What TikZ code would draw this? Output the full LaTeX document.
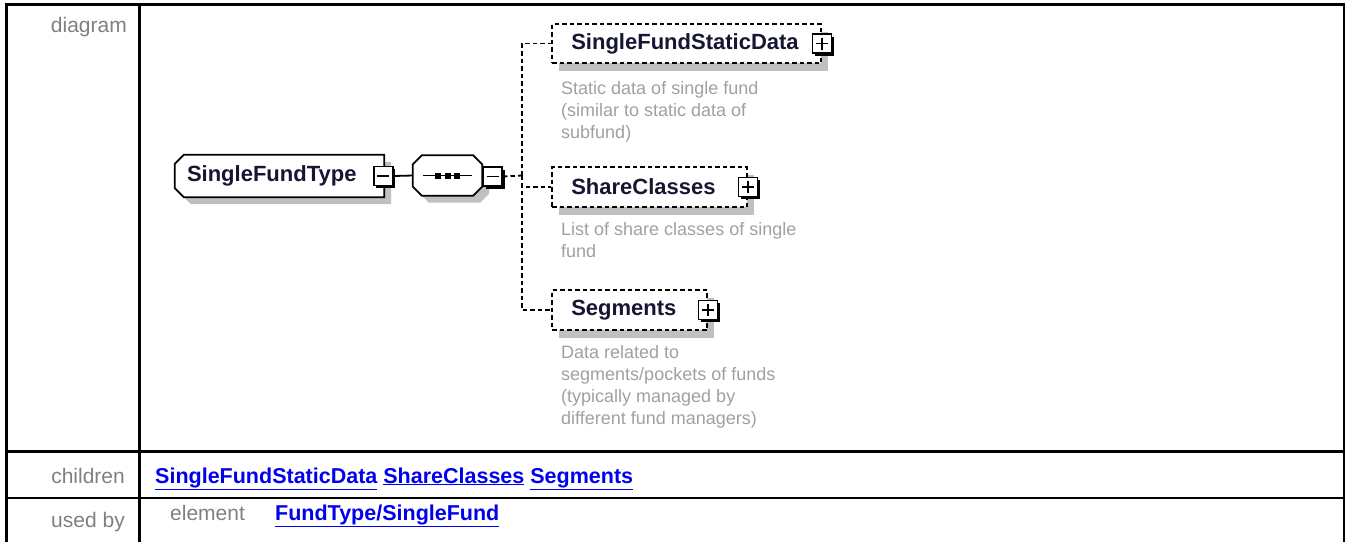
\documentclass[tikz,border=0pt]{standalone}
\usepackage{fontspec}
\setmainfont{Liberation Sans}
\usetikzlibrary{shadows}
\definecolor{labelgray}{RGB}{128,128,128}
\definecolor{linkblue}{RGB}{0,0,238}
\definecolor{namecol}{RGB}{22,22,52}
\definecolor{descgray}{RGB}{160,160,160}
\definecolor{shadowgray}{RGB}{192,192,192}
\begin{document}
\begin{tikzpicture}[x=1pt,y=-1pt,
  lbl/.style={text=labelgray,font=\fontsize{21}{25}\selectfont,inner sep=0},
  lnk/.style={text=linkblue,font=\bfseries\fontsize{21.5}{25}\selectfont,inner sep=0,anchor=base west},
  nm/.style={text=namecol,font=\bfseries\fontsize{22}{26}\selectfont,inner sep=0,anchor=west},
  desc/.style={text=descgray,font=\fontsize{18}{22}\selectfont,align=left,inner sep=0,anchor=north west},
  anchorbox/.style={inner sep=0,draw=none},
  elbox/.style={draw,dash pattern=on 4.5pt off 3pt,line width=1.8pt,fill=white,inner sep=0,
    drop shadow={fill=shadowgray,opacity=1,shadow xshift=7pt,shadow yshift=-8pt}},
  conn/.style={line width=1.8pt,dash pattern=on 4.5pt off 3pt},
  solidconn/.style={line width=1.8pt},
  btn/.style={draw,line width=1.8pt,fill=white,minimum size=19pt,inner sep=0,
    drop shadow={fill=black,opacity=1,shadow xshift=2.5pt,shadow yshift=-2.5pt}},
  minusbtn/.style={btn,path picture={\draw[line width=1.6pt]
      ([xshift=3.5pt]path picture bounding box.west) -- ([xshift=-3.5pt]path picture bounding box.east);}},
  plusbtn/.style={btn,path picture={\draw[line width=1.6pt]
      ([xshift=3.5pt]path picture bounding box.west) -- ([xshift=-3.5pt]path picture bounding box.east)
      ([yshift=-3.5pt]path picture bounding box.north) -- ([yshift=3.5pt]path picture bounding box.south);}},
]
\useasboundingbox (0,0) rectangle (1346,542);

% table frame
\draw[line width=3pt] (6.5,542) -- (6.5,4.5) -- (1345,4.5);
\draw[line width=2pt] (1344,3) -- (1344,542);
\draw[line width=2.7pt] (139.7,3) -- (139.7,542);
\draw[line width=3.3pt] (5,451.7) -- (1345,451.7);
\draw[line width=2.7pt] (5,498) -- (1345,498);

% row labels
\node[lbl,anchor=base east] (ldiag) at (127,32) {diagram};
\node[lbl,anchor=base east] (lchild) at (125,483) {children};
\node[lbl,anchor=base east] (lused) at (125,527) {used by};
\node[lbl,anchor=base west] (lelem) at (170,520) {element};
\node[lnk] (childlinks) at (155,483) {\underline{SingleFundStaticData} \underline{ShareClasses} \underline{Segments}};
\node[lnk] (usedlink) at (275,520) {\underline{FundType/SingleFund}};

% SingleFundType box (chamfered left corners)
\node[anchorbox,minimum width=209pt,minimum height=42pt] (sft) at (279.5,176) {};
\fill[shadowgray] ([shift={(16,7)}]sft.north west) -- ([shift={(7,7)}]sft.north east)
  -- ([shift={(7,7)}]sft.south east) -- ([shift={(16,7)}]sft.south west)
  -- ([shift={(7,-2)}]sft.south west) -- ([shift={(7,16)}]sft.north west) -- cycle;
\filldraw[fill=white,line width=1.8pt] ([shift={(9,0)}]sft.north west) -- (sft.north east)
  -- (sft.south east) -- ([shift={(9,0)}]sft.south west)
  -- ([shift={(0,-9)}]sft.south west) -- ([shift={(0,9)}]sft.north west) -- cycle;
\node[nm] (sftt) at ([shift={(12,0)}]sft.west) {SingleFundType};
\node[minusbtn] (sftb) at ([shift={(-1,0)}]sft.east) {};

% sequence compositor
\node[anchorbox,minimum width=69pt,minimum height=40pt] (seq) at (447.5,175.5) {};
\fill[shadowgray] ([shift={(16,7)}]seq.north west) -- ([shift={(-2,7)}]seq.north east)
  -- ([shift={(7,16)}]seq.north east) -- ([shift={(7,-2)}]seq.south east)
  -- ([shift={(-2,7)}]seq.south east) -- ([shift={(16,7)}]seq.south west)
  -- ([shift={(7,-2)}]seq.south west) -- ([shift={(7,16)}]seq.north west) -- cycle;
\filldraw[fill=white,line width=1.8pt] ([shift={(9,0)}]seq.north west) -- ([shift={(-9,0)}]seq.north east)
  -- ([shift={(0,9)}]seq.north east) -- ([shift={(0,-9)}]seq.south east)
  -- ([shift={(-9,0)}]seq.south east) -- ([shift={(9,0)}]seq.south west)
  -- ([shift={(0,-9)}]seq.south west) -- ([shift={(0,9)}]seq.north west) -- cycle;
\draw[line width=1.8pt] ([shift={(10,0)}]seq.west) -- ([shift={(-10,0)}]seq.east);
\foreach \dx in {-9.5,0,9.5}
  \fill ([shift={(\dx-3,-3)}]seq.center) rectangle ([shift={(\dx+3,3)}]seq.center);
\node[minusbtn,anchor=west] (seqb) at ([shift={(0,1)}]seq.east) {};

\draw[solidconn] (sftb.east) -- (seq.west);

% child elements
\node[elbox,minimum width=269pt,minimum height=39pt] (sfsd) at (686.5,43.5) {};
\node[nm] (sfsdt) at ([shift={(20,0)}]sfsd.west) {SingleFundStaticData};
\node[plusbtn] (sfsdb) at (sfsd.east) {};
\node[desc] (sfsdd) at (561,81) {Static data of single fund\\(similar to static data of\\subfund)};

\node[elbox,minimum width=195pt,minimum height=40pt] (sc) at (649.5,187) {};
\node[nm] (sct) at ([shift={(20,0)}]sc.west) {ShareClasses};
\node[plusbtn] (scb) at (sc.east) {};
\node[desc] (scd) at (561,222) {List of share classes of single\\fund};

\node[elbox,minimum width=155pt,minimum height=40pt] (seg) at (629.5,310) {};
\node[nm] (segt) at ([shift={(20,0)}]seg.west) {Segments};
\node[plusbtn] (segb) at (seg.east) {};
\node[desc] (segd) at (561,345) {Data related to\\segments/pockets of funds\\(typically managed by\\different fund managers)};

% connectors
\coordinate (bus) at (522,175.5);
\draw[conn] (seqb.east) -- (bus);
\draw[conn] (bus) |- (sfsd.west);
\draw[conn] (bus) |- (sc.west);
\draw[conn] (bus) |- (seg.west);
\end{tikzpicture}
\end{document}
